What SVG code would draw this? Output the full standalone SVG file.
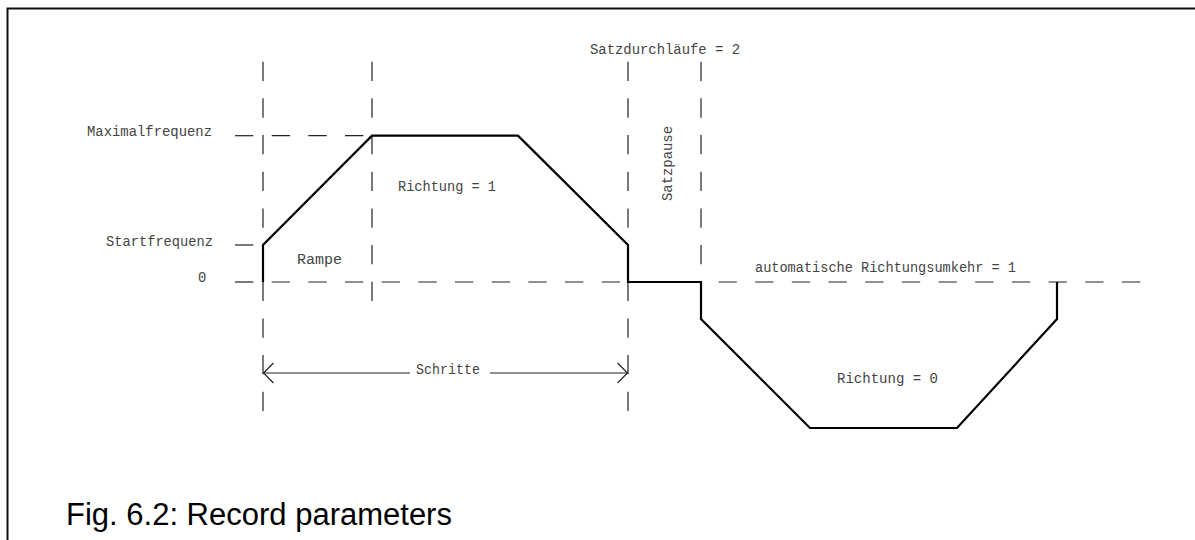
<svg xmlns="http://www.w3.org/2000/svg" width="1195" height="540" viewBox="0 0 1195 540">
<style>
.frame{stroke:#111;stroke-width:2;fill:none}
.dash{stroke:#222;stroke-width:1.2;fill:none}
.dv{stroke-dasharray:19.3 17.37}
.dh{stroke-dasharray:18.33 18.34}
.curve{stroke:#000;stroke-width:2.2;fill:none;stroke-linejoin:miter}
.dim{stroke:#222;stroke-width:1.1;fill:none}
.lbl{font-family:"Liberation Mono","DejaVu Sans Mono",monospace;font-size:13.8px;fill:#444}
.cap{font-family:"Liberation Sans",Arial,sans-serif;font-size:31px;fill:#000}
</style>
<defs>
<marker id="open" markerUnits="userSpaceOnUse" markerWidth="14" markerHeight="24" viewBox="-2 -2 14 24" refX="10" refY="10" orient="auto">
<path d="M0,0 L10,10 L0,20" fill="none" stroke="#222" stroke-width="1.2"/>
</marker>
</defs>
<rect width="1195" height="540" fill="#fff"/>
<g id="frame">
<path class="frame" d="M7.5,541 L7.5,8.5 L1196,8.5"/>
</g>
<g id="connectors">
<line class="dash dv" x1="263" y1="61.7" x2="263" y2="411"/>
<line class="dash dv" x1="372" y1="61.7" x2="372" y2="301"/>
<line class="dash dv" x1="628" y1="61.7" x2="628" y2="411"/>
<line class="dash dv" x1="701" y1="61.7" x2="701" y2="265"/>
<line class="dash dh" x1="235" y1="135.7" x2="372" y2="135.7"/>
<line class="dash dh" x1="235" y1="245" x2="263" y2="245"/>
<line class="dash dh" x1="235" y1="282" x2="628" y2="282"/>
<line class="dash dh" x1="718.5" y1="282" x2="1141" y2="282"/>
<line class="dim" x1="410" y1="373" x2="263.5" y2="373" marker-end="url(#open)"/>
<line class="dim" x1="490" y1="373" x2="627.5" y2="373" marker-end="url(#open)"/>
</g>
<g id="curve">
<polyline class="curve" points="263,282 263,245 372,135.7 518,135.7 628,245 628,282 701,282 701,319 810,428 957,428 1057,319 1057,282"/>
</g>
<g id="labels">
<text class="lbl" x="87" y="136" textLength="125" lengthAdjust="spacingAndGlyphs">Maximalfrequenz</text>
<text class="lbl" x="106" y="246" textLength="107" lengthAdjust="spacingAndGlyphs">Startfrequenz</text>
<text class="lbl" x="198" y="282">0</text>
<text class="lbl" x="297" y="264" textLength="45" lengthAdjust="spacingAndGlyphs">Rampe</text>
<text class="lbl" x="398" y="191" textLength="98" lengthAdjust="spacingAndGlyphs">Richtung = 1</text>
<text class="lbl" x="590" y="54" textLength="150" lengthAdjust="spacingAndGlyphs">Satzdurchläufe = 2</text>
<text class="lbl" transform="translate(671.5,201) rotate(-90)" x="0" y="0" textLength="75" lengthAdjust="spacingAndGlyphs">Satzpause</text>
<text class="lbl" x="755" y="272" textLength="261" lengthAdjust="spacingAndGlyphs">automatische Richtungsumkehr = 1</text>
<text class="lbl" x="837" y="383" textLength="101" lengthAdjust="spacingAndGlyphs">Richtung = 0</text>
<text class="lbl" x="416" y="374" textLength="64" lengthAdjust="spacingAndGlyphs">Schritte</text>
</g>
<g id="caption">
<text class="cap" x="66" y="525">Fig. 6.2: Record parameters</text>
</g>
</svg>
